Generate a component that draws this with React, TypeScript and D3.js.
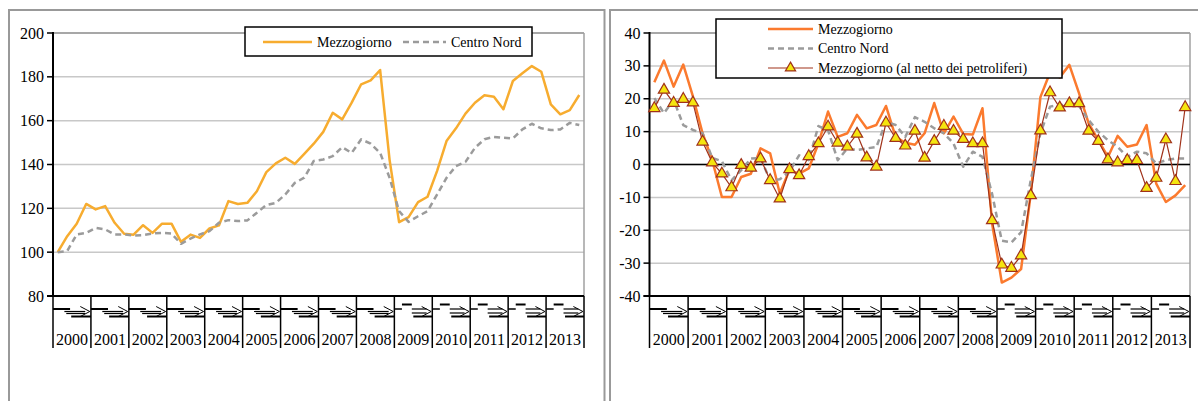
import React from 'react';
import * as d3 from 'd3';

const years = ['2000', '2001', '2002', '2003', '2004', '2005', '2006', '2007', '2008', '2009', '2010', '2011', '2012', '2013'];
const quarters = ['I', 'II', 'III', 'IV'];
const periods = years.flatMap(y => quarters.map(q => `${y}-${q}`));

const leftTicks = [80, 100, 120, 140, 160, 180, 200];
const rightTicks = [-40, -30, -20, -10, 0, 10, 20, 30, 40];

// indice 2000 = 100
const mezzIndex = [100, 107.3, 113, 122, 119.5, 121, 113.4, 108.4, 108, 112.3, 108.8, 113, 113, 104.7, 108, 106.5, 110.8, 112.2, 123.3, 122, 122.5, 127.8, 136.5, 140.5, 143.1, 140.3, 144.8, 149.5, 154.9, 163.6, 160.6, 168.2, 176.6, 178.4, 183.1, 142, 113.7, 116, 122.8, 125.3, 137, 150.7, 156.5, 163.2, 168.2, 171.6, 170.9, 165.2, 178.1, 181.6, 184.9, 182.3, 167.4, 162.9, 164.8, 171.7];
const cnIndex = [100, 100.5, 108.1, 108.8, 111.1, 110.4, 108.1, 108.1, 107.6, 107.8, 108.5, 108.8, 108.5, 103.8, 106.2, 108.1, 109.6, 113.4, 114.6, 114.2, 114.5, 118, 121.5, 122.5, 126.3, 131.6, 134, 141.6, 142.3, 143.8, 147.9, 145.3, 151.5, 149.5, 145.3, 133.9, 118.7, 113.8, 116.4, 118.7, 126.3, 133.9, 139.3, 141.2, 147.6, 151.5, 152.6, 152.2, 151.9, 156, 158.6, 156.5, 155.7, 156, 159, 158];

// variazioni tendenziali %
const mezzVar = [25, 31.6, 23.7, 30.4, 20.7, 9.5, 1.3, -9.9, -9.9, -3.8, -2.8, 4.9, 3.4, -8.8, -1.7, -2.8, -1.2, 6.4, 16.1, 8.4, 9.5, 15.1, 11, 12, 17.8, 8.4, 6.6, 6.0, 9.5, 18.7, 9.5, 14.6, 9.3, 9.1, 17.1, -18, -35.9, -34.4, -31.8, -8.9, 20.5, 28, 26.5, 30.3, 21.7, 12.5, 7.4, 2.3, 8.7, 5.4, 6.1, 12, -5.8, -11.4, -9.4, -6.3];
const cnVar = [20.2, 15.6, 19.7, 12, 10.5, 9.5, 2, 1, -4.8, -1.7, 1.8, 2, -4.8, -4.5, -2.2, 2.8, 1.3, 11.7, 10.4, 1.3, 4.9, 4.4, 4.9, 5.3, 13, 12, 8.4, 14.4, 13, 11, 9.5, 6.4, -0.7, 3.9, 2.3, -9, -23.2, -23.7, -20.6, -4.8, 9.5, 17.6, 18.1, 18.1, 17.8, 13.5, 10, 7.4, 5.4, 2.3, 3.9, 3.4, 0.3, 1.3, 1.8, 1.8];
const mezzNetVar = [17.1, 22.7, 18.7, 19.9, 18.8, 6.9, 0.6, -2.8, -7, -0.2, -1, 1.8, -4.8, -10.4, -1.5, -3.3, 2.5, 6.4, 11.5, 6.6, 5.4, 9.3, 2.1, -0.7, 12.7, 8, 5.7, 10.2, 2, 7.1, 11.7, 10.2, 7.7, 6.4, 6.4, -17, -30.5, -31.5, -27.7, -9.4, 10.3, 21.9, 17.3, 18.6, 18.6, 10.2, 7.1, 1.5, 0.6, 1.3, 1.3, -7.2, -4.1, 7.6, -5.1, 17.4];

const FONT = '"Liberation Serif", serif';
const TOP = 33;
const BOTTOM = 296;

type Series = {
  name: string;
  values: number[];
  color: string;
  width: number;
  dash?: string;
  marker?: boolean;
};

// the garbled quarter labels under the axis, drawn as small strokes
const Glyph = ({ x0, w, late }: { x0: number; w: number; late: boolean }) => {
  const X = (t: number) => x0 + t * w;
  const segs: [number, number, number, number, number][] = late
    ? [
        [0, 309, 0.2, 309, 1.5],
        [0.2, 304.5, 0.46, 304.5, 2],
        [0.46, 309, 0.85, 309, 1.2],
        [0.46, 313, 0.85, 313, 1.2],
        [0.5, 316.5, 1, 316.5, 2],
      ]
    : [
        [0, 309, 0.45, 309, 2],
        [0.3, 311.5, 0.85, 311.5, 1.2],
        [0.35, 313.5, 0.85, 313.5, 1.2],
        [0.48, 316.5, 1, 316.5, 2],
      ];
  return (
    <g>
      {segs.map((s, i) => (
        <line key={i} x1={X(s[0])} y1={s[1]} x2={X(s[2])} y2={s[3]} stroke="#000" strokeWidth={s[4]} />
      ))}
      <polyline
        points={`${X(0.72)},306.5 ${X(0.97)},311.5 ${X(0.72)},316.5`}
        fill="none"
        stroke="#000"
        strokeWidth={1}
      />
    </g>
  );
};

const Panel = ({
  x0, x1, domain, ticks, series, zero,
}: {
  x0: number; x1: number; domain: [number, number]; ticks: number[]; series: Series[]; zero?: boolean;
}) => {
  const x = d3.scaleBand().domain(periods).range([x0, x1]);
  const xYear = d3.scaleBand().domain(years).range([x0, x1]);
  const y = d3.scaleLinear().domain(domain).range([BOTTOM, TOP]);
  const cx = (i: number) => (x(periods[i]) as number) + x.bandwidth() / 2;
  const tri = d3.symbol(d3.symbolTriangle, 55)();

  return (
    <g>
      {/* gridlines */}
      {ticks.slice(1, -1).map(t => (
        <line key={t} x1={x0} x2={x1} y1={y(t)} y2={y(t)} stroke="#c8c8c8" strokeWidth={1.5} />
      ))}
      <line x1={x0} x2={x1} y1={TOP} y2={TOP} stroke="#8a8a8a" strokeWidth={1.5} />
      <line x1={x1} x2={x1} y1={TOP} y2={BOTTOM} stroke="#a0a0a0" strokeWidth={1.5} />
      {zero && <line x1={x0} x2={x1} y1={y(0)} y2={y(0)} stroke="#000" strokeWidth={1.5} />}

      {/* y axis */}
      <line x1={x0} x2={x0} y1={TOP - 1} y2={BOTTOM} stroke="#000" strokeWidth={2} />
      {ticks.map(t => (
        <g key={t}>
          <line x1={x0 - 6} x2={x0} y1={y(t)} y2={y(t)} stroke="#000" strokeWidth={1.5} />
          <text x={x0 - 9} y={y(t)} dy="0.35em" textAnchor="end" fontSize={16} fontFamily={FONT} fill="#000">
            {t}
          </text>
        </g>
      ))}

      {/* category axis */}
      <line x1={x0 - 6} x2={x1} y1={BOTTOM} y2={BOTTOM} stroke="#000" strokeWidth={2} />
      {years.map((yr, i) => {
        const bx = xYear(yr) as number;
        return (
          <g key={yr}>
            <Glyph x0={bx} w={xYear.bandwidth()} late={i >= 9} />
            <text x={bx + xYear.bandwidth() / 2} y={345} textAnchor="middle" fontSize={16} fontFamily={FONT} fill="#000">
              {yr}
            </text>
          </g>
        );
      })}
      {years.concat(['end']).map((yr, i) => {
        const bx = x0 + i * xYear.bandwidth();
        return <line key={yr} x1={bx} x2={bx} y1={BOTTOM} y2={348} stroke="#000" strokeWidth={1.5} />;
      })}

      {/* series */}
      {series.map(s => {
        const line = d3.line<number>().x((_, i) => cx(i)).y(d => y(d));
        return (
          <g key={s.name}>
            <path d={line(s.values) || ''} fill="none" stroke={s.color} strokeWidth={s.width} strokeDasharray={s.dash} strokeLinejoin="round" />
            {s.marker &&
              s.values.map((v, i) => (
                <path key={i} d={tri || ''} transform={`translate(${cx(i)},${y(v)})`} fill="#f5e50f" stroke="#a0321a" strokeWidth={1.2} />
              ))}
          </g>
        );
      })}
    </g>
  );
};

const LegendItem = ({ x, y, s, len, label }: { x: number; y: number; s: Series; len: number; label: string }) => {
  const tri = d3.symbol(d3.symbolTriangle, 45)();
  return (
    <g>
      <line x1={x} x2={x + len} y1={y} y2={y} stroke={s.color} strokeWidth={s.width} strokeDasharray={s.dash} />
      {s.marker && (
        <path d={tri || ''} transform={`translate(${x + len / 2},${y})`} fill="#f5e50f" stroke="#a0321a" strokeWidth={1.2} />
      )}
      <text x={x + len + 5} y={y} dy="0.33em" fontSize={14} fontFamily={FONT} fill="#000">
        {label}
      </text>
    </g>
  );
};

export default function App() {
  const leftSeries: Series[] = [
    { name: 'Mezzogiorno', values: mezzIndex, color: '#f7ac2f', width: 2.5 },
    { name: 'Centro Nord', values: cnIndex, color: '#9b9b9b', width: 2.5, dash: '6,4' },
  ];
  const rightSeries: Series[] = [
    { name: 'Mezzogiorno', values: mezzVar, color: '#fb7a2e', width: 2.5 },
    { name: 'Centro Nord', values: cnVar, color: '#9b9b9b', width: 2.5, dash: '6,4' },
    { name: 'Mezzogiorno (al netto dei petroliferi)', values: mezzNetVar, color: '#a0321a', width: 1.2, marker: true },
  ];

  return (
    <svg width={1198} height={401} style={{ position: 'absolute', left: 0, top: 0, background: '#fff' }}>
      <rect x={0} y={0} width={1198} height={401} fill="#fff" />
      {/* panel frames */}
      <rect x={9} y={10} width={595.5} height={420} fill="none" stroke="#999" strokeWidth={2} />
      <rect x={610} y={10} width={620} height={420} fill="none" stroke="#999" strokeWidth={2} />

      <Panel x0={53} x1={584} domain={[80, 200]} ticks={leftTicks} series={leftSeries} />
      <Panel x0={649.5} x1={1190} domain={[-40, 40]} ticks={rightTicks} series={rightSeries} zero />

      {/* left legend */}
      <rect x={245} y={27} width={287} height={29} fill="#fff" stroke="#000" strokeWidth={1.5} />
      <LegendItem x={263} y={42} s={leftSeries[0]} len={49} label="Mezzogiorno" />
      <LegendItem x={403} y={42} s={leftSeries[1]} len={43} label="Centro Nord" />

      {/* right legend */}
      <rect x={716} y={19} width={346} height={59} fill="#fff" stroke="#000" strokeWidth={1.5} />
      <LegendItem x={768} y={29} s={rightSeries[0]} len={45} label="Mezzogiorno" />
      <LegendItem x={768} y={48.5} s={rightSeries[1]} len={45} label="Centro Nord" />
      <LegendItem x={768} y={68} s={rightSeries[2]} len={45} label="Mezzogiorno (al netto dei petroliferi)" />
    </svg>
  );
}
